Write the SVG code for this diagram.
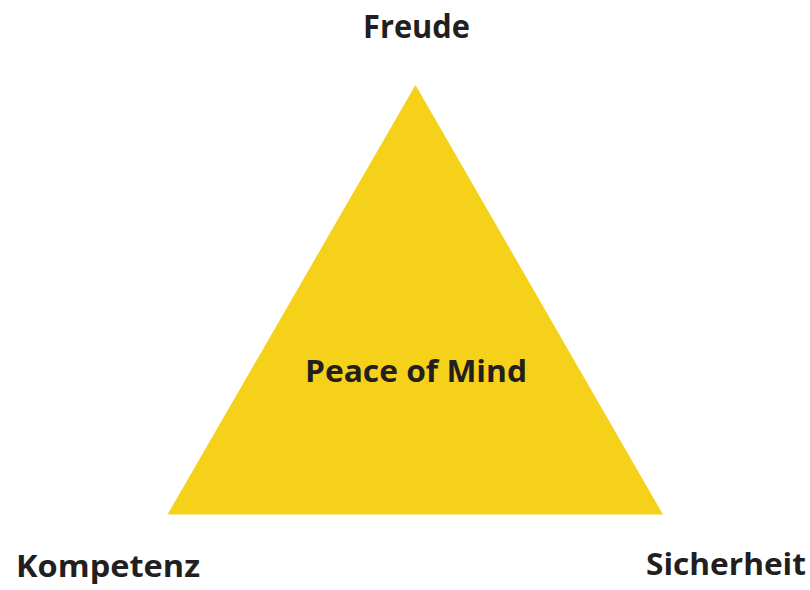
<svg xmlns="http://www.w3.org/2000/svg" width="810" height="590" viewBox="0 0 810 590">
<style>
.t{font-family:"Open Sans","Liberation Sans",sans-serif;font-weight:700;fill:#231f20}
</style>
<rect width="810" height="590" fill="#ffffff"/>
<g id="connectors"></g>
<g id="triangle">
<polygon points="415.5,85 167.5,514.5 663,514.5" fill="#f6d11a"/>
<text class="t" x="305" y="382" font-size="30" textLength="222" lengthAdjust="spacingAndGlyphs">Peace of Mind</text>
</g>
<g id="freude"><text class="t" x="363" y="38" font-size="32" textLength="107" lengthAdjust="spacingAndGlyphs">Freude</text></g>
<g id="kompetenz"><text class="t" x="16" y="577" font-size="30" textLength="184" lengthAdjust="spacingAndGlyphs">Kompetenz</text></g>
<g id="sicherheit"><text class="t" x="646" y="575" font-size="31" textLength="160" lengthAdjust="spacingAndGlyphs">Sicherheit</text></g>
</svg>
